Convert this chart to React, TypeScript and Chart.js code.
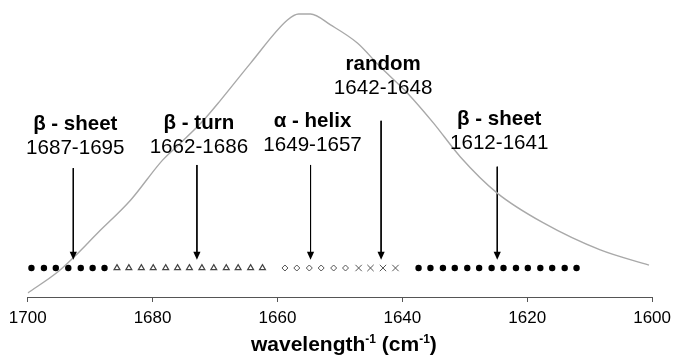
import { useEffect, useRef } from 'react';
import { Chart, registerables } from 'chart.js';

Chart.register(...registerables);

// Amide I absorbance profile (arbitrary units, 0–1)
const spectrumWavenumber = [
  1700.0, 1695.2, 1692.6, 1688.8, 1683.5, 1678.4, 1675.5, 1671.8, 1669.1, 1664.3,
  1658.4, 1656.6, 1654.7, 1651.5, 1647.2, 1643.5, 1639.2, 1635.0, 1630.7, 1624.8,
  1617.4, 1608.3, 1600.5,
];
const spectrumIntensity = [
  0.014, 0.087, 0.139, 0.223, 0.338, 0.477, 0.537, 0.617, 0.686, 0.815,
  0.965, 0.986, 0.986, 0.948, 0.885, 0.801, 0.711, 0.606, 0.488, 0.362,
  0.258, 0.164, 0.111,
];

// Band assignment markers along the baseline
const sheetHighMarkers = [1699.4, 1697.4, 1695.5, 1693.5, 1691.5, 1689.6, 1687.7];
const turnMarkers = [
  1685.7, 1683.8, 1681.8, 1679.9, 1677.9, 1676.0, 1674.1, 1672.1, 1670.2, 1668.2,
  1666.3, 1664.3, 1662.4,
];
const helixMarkers = [1658.8, 1656.9, 1654.9, 1653.0, 1651.0, 1649.1];
const randomMarkers = [1647.0, 1645.1, 1643.1, 1641.1];
const sheetLowMarkers = [
  1637.4, 1635.5, 1633.5, 1631.6, 1629.6, 1627.7, 1625.7, 1623.8, 1621.8, 1619.9,
  1617.9, 1616.0, 1614.0, 1612.1,
];
const markerLevel = 0.101;

// Band annotations
const bandNames = ['β - sheet', 'β - turn', 'α - helix', 'random', 'β - sheet'];
const bandRanges = ['1687-1695', '1662-1686', '1649-1657', '1642-1648', '1612-1641'];
const bandArrowX = [1692.7, 1672.9, 1654.7, 1643.4, 1624.8];
const bandArrowFrom = [0.449, 0.46, 0.46, 0.614, 0.454];
const bandArrowTo = 0.13;
const bandLabelLevel = [0.519, 0.523, 0.53, 0.728, 0.537];

const xTicks = [1700, 1680, 1660, 1640, 1620, 1600];

const FONT = '"Liberation Sans", Arial, Helvetica, sans-serif';

const annotationPlugin = {
  id: 'bandAnnotations',
  afterDatasetsDraw(chart: any) {
    const { ctx, scales } = chart;
    const xs = scales.x;
    const ys = scales.y;
    ctx.save();
    // arrowheads
    ctx.fillStyle = '#000';
    bandArrowX.forEach((w) => {
      const x = xs.getPixelForValue(w);
      const tip = ys.getPixelForValue(bandArrowTo);
      ctx.beginPath();
      ctx.moveTo(x, tip);
      ctx.lineTo(x - 3.6, tip - 8);
      ctx.lineTo(x + 3.6, tip - 8);
      ctx.closePath();
      ctx.fill();
    });
    // labels
    ctx.textAlign = 'center';
    ctx.textBaseline = 'middle';
    ctx.fillStyle = '#000';
    bandNames.forEach((name, i) => {
      const x = xs.getPixelForValue(bandArrowX[i]) + 2;
      const y = ys.getPixelForValue(bandLabelLevel[i]);
      ctx.font = `bold 20.5px ${FONT}`;
      ctx.fillText(name, x, y - 24);
      ctx.font = `20.6px ${FONT}`;
      ctx.fillText(bandRanges[i], x, y);
    });
    ctx.restore();
  },
  afterDraw(chart: any) {
    const { ctx, chartArea } = chart;
    ctx.save();
    ctx.fillStyle = '#000';
    ctx.textBaseline = 'alphabetic';
    const main = `bold 21px ${FONT}`;
    const sup = `bold 12px ${FONT}`;
    const parts: [string, string, number][] = [
      ['wavelength', main, 0],
      ['-1', sup, -8],
      [' (cm', main, 0],
      ['-1', sup, -8],
      [')', main, 0],
    ];
    let total = 0;
    parts.forEach(([t, f]) => {
      ctx.font = f;
      total += ctx.measureText(t).width;
    });
    let x = (chartArea.left + chartArea.right) / 2 + 4 - total / 2;
    const base = 351;
    ctx.textAlign = 'left';
    parts.forEach(([t, f, dy]) => {
      ctx.font = f;
      ctx.fillText(t, x, base + dy);
      x += ctx.measureText(t).width;
    });
    ctx.restore();
  },
};

const markerSet = (values: number[], style: any) => ({
  type: 'scatter' as const,
  data: values.map((w) => ({ x: w, y: markerLevel })),
  showLine: false,
  ...style,
});

export default function App() {
  const canvasRef = useRef<HTMLCanvasElement | null>(null);

  useEffect(() => {
    const canvas = canvasRef.current;
    if (!canvas) return;

    const arrowSets = bandArrowX.map((w, i) => ({
      type: 'line' as const,
      data: [
        { x: w, y: bandArrowFrom[i] },
        { x: w, y: bandArrowTo + 0.02 },
      ],
      borderColor: '#000',
      borderWidth: 1,
      pointRadius: 0,
      fill: false,
    }));

    const chart = new Chart(canvas, {
      type: 'line',
      data: {
        datasets: [
          {
            type: 'line',
            data: spectrumWavenumber.map((w, i) => ({ x: w, y: spectrumIntensity[i] })),
            borderColor: '#a9a9a9',
            borderWidth: 1.4,
            pointRadius: 0,
            cubicInterpolationMode: 'monotone',
            fill: false,
          },
          markerSet(sheetHighMarkers, {
            pointStyle: 'circle',
            pointRadius: 3.2,
            backgroundColor: '#000',
            borderColor: '#000',
            borderWidth: 0,
          }),
          markerSet(turnMarkers, {
            pointStyle: 'triangle',
            pointRadius: 3.4,
            backgroundColor: '#fff',
            borderColor: '#444',
            borderWidth: 1.2,
          }),
          markerSet(helixMarkers, {
            pointStyle: 'rectRot',
            pointRadius: 3,
            backgroundColor: '#fff',
            borderColor: '#555',
            borderWidth: 1,
          }),
          markerSet(randomMarkers, {
            pointStyle: 'crossRot',
            pointRadius: 4.5,
            backgroundColor: '#555',
            borderColor: '#555',
            borderWidth: 1,
          }),
          markerSet(sheetLowMarkers, {
            pointStyle: 'circle',
            pointRadius: 3.2,
            backgroundColor: '#000',
            borderColor: '#000',
            borderWidth: 0,
          }),
          ...arrowSets,
        ] as any,
      },
      options: {
        responsive: false,
        animation: false,
        devicePixelRatio: 1,
        layout: { padding: { left: 27.7, right: 22.7, top: 10, bottom: 20.6 } },
        plugins: {
          legend: { display: false },
          tooltip: { enabled: false },
          title: { display: false },
        },
        scales: {
          x: {
            type: 'linear',
            min: 1600,
            max: 1700,
            reverse: true,
            afterBuildTicks: (scale: any) => {
              scale.ticks = xTicks.map((v) => ({ value: v }));
            },
            ticks: {
              color: '#000',
              font: { family: FONT, size: 17 },
              padding: 6,
              maxRotation: 0,
              autoSkip: false,
              callback: (v: any) => String(v),
            },
            grid: {
              drawOnChartArea: false,
              drawTicks: true,
              tickLength: 5,
              color: '#555',
            },
            border: { display: true, color: '#555', width: 1 },
          },
          y: {
            display: false,
            min: 0,
            max: 1,
          },
        },
      },
      plugins: [annotationPlugin],
    });

    return () => chart.destroy();
  }, []);

  return (
    <div style={{ position: 'fixed', left: 0, top: 0, width: 677, height: 355, background: '#fff' }}>
      <canvas ref={canvasRef} width={677} height={355} style={{ display: 'block' }} />
    </div>
  );
}
